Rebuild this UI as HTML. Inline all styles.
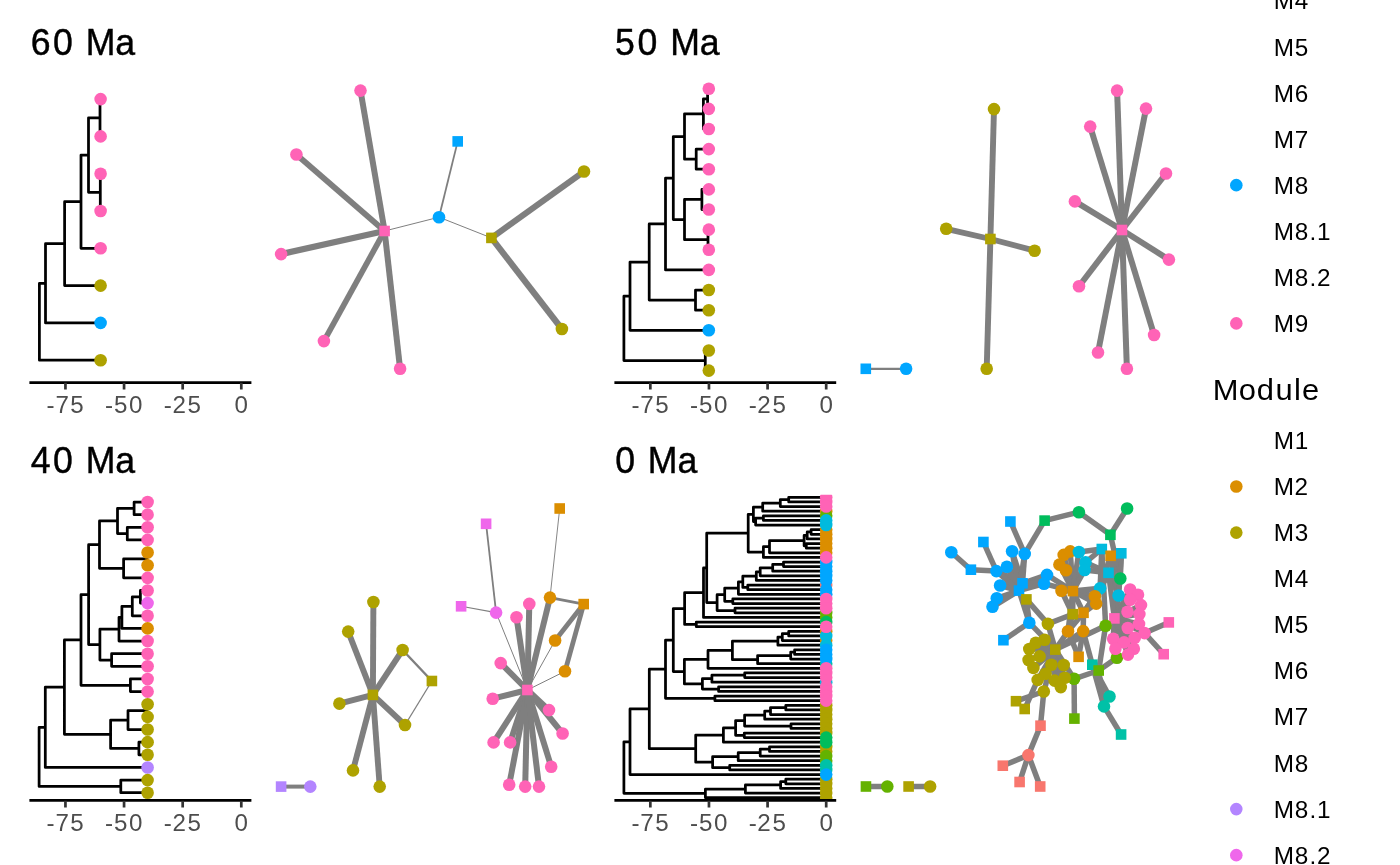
<!DOCTYPE html>
<html lang="en"><head><meta charset="utf-8"><title>Phylogeny and network through time</title>
<style>html,body{margin:0;padding:0;background:#fff}body{width:1400px;height:865px;overflow:hidden}svg{display:block;will-change:transform}text{font-family:"Liberation Sans",sans-serif}</style></head><body>
<svg width="1400" height="865" viewBox="0 0 1400 865">
<rect width="1400" height="865" fill="#fff"/>
<text transform="scale(0.9526 1)" x="32.21 55.71 77.88 89.99 121.06" y="54.8" font-size="37.42" fill="#000" stroke="#000" stroke-width="0.45">60 Ma</text>
<text transform="scale(0.9526 1)" x="645.61 669.27 691.43 703.54 734.61" y="54.8" font-size="37.42" fill="#000" stroke="#000" stroke-width="0.45">50 Ma</text>
<text transform="scale(0.9526 1)" x="32.19 55.71 77.88 89.99 121.06" y="472.8" font-size="37.42" fill="#000" stroke="#000" stroke-width="0.45">40 Ma</text>
<text transform="scale(0.9526 1)" x="645.76 667.93 680.04 711.1" y="472.8" font-size="37.42" fill="#000" stroke="#000" stroke-width="0.45">0 Ma</text>
<path d="M100 117.75V99.1H100.6M100 117.75V136.4H100.6M100.3 192.35V173.7H100.6M100.3 192.35V211H100.6M88.5 155.05V117.75H100M88.5 155.05V192.35H100.3M81 201.67V155.05H88.5M81 201.67V248.3H100.6M64.6 243.64V201.67H81M64.6 243.64V285.6H100.6M45.5 283.27V243.64H64.6M45.5 283.27V322.9H100.6M39.4 321.73V283.27H45.5M39.4 321.73V360.2H100.6" fill="none" stroke="#000" stroke-width="2.75" stroke-linejoin="round" stroke-linecap="round"/>
<circle cx="100.6" cy="99.1" r="6.3" fill="#FF63B6"/>
<circle cx="100.6" cy="136.4" r="6.3" fill="#FF63B6"/>
<circle cx="100.6" cy="173.7" r="6.3" fill="#FF63B6"/>
<circle cx="100.6" cy="211" r="6.3" fill="#FF63B6"/>
<circle cx="100.6" cy="248.3" r="6.3" fill="#FF63B6"/>
<circle cx="100.6" cy="285.6" r="6.3" fill="#AEA200"/>
<circle cx="100.6" cy="322.9" r="6.3" fill="#00A6FF"/>
<circle cx="100.6" cy="360.2" r="6.3" fill="#AEA200"/>
<path d="M29.4 382.5H251.4" stroke="#000" stroke-width="2.75" fill="none"/>
<path d="M241.3 382.8V389.6M182.68 382.8V389.6M124.06 382.8V389.6M65.44 382.8V389.6" stroke="#333" stroke-width="2.7" fill="none"/>
<text transform="scale(0.9791 1)" x="239.59" y="412.8" font-size="24.7" fill="#4D4D4D">0</text>
<text transform="scale(0.9791 1)" x="167.22 176.1 191.57" y="412.8" font-size="24.7" fill="#4D4D4D">-25</text>
<text transform="scale(0.9791 1)" x="107.35 116.45 131.79" y="412.8" font-size="24.7" fill="#4D4D4D">-50</text>
<text transform="scale(0.9791 1)" x="47.48 56.62 71.82" y="412.8" font-size="24.7" fill="#4D4D4D">-75</text>
<path d="M707.6 98.77V88.7H708.8M707.6 98.77V108.84H708.8M703.4 113.87V98.77H707.6M703.4 113.87V128.97H708.8M696.2 159.17V149.11H708.8M696.2 159.17V169.24H708.8M684.5 136.52V113.87H703.4M684.5 136.52V159.17H696.2M701.9 199.44V189.38H708.8M701.9 199.44V209.51H708.8M708 239.71V229.65H708.8M708 239.71V249.78H708.8M684.5 219.58V199.44H701.9M684.5 219.58V239.71H708M673.3 178.05V136.52H684.5M673.3 178.05V219.58H684.5M665.5 223.98V178.05H673.3M665.5 223.98V269.92H708.8M695.5 300.12V290.05H708.8M695.5 300.12V310.19H708.8M649.2 262.05V223.98H665.5M649.2 262.05V300.12H695.5M630 296.18V262.05H649.2M630 296.18V330.32H708.8M705.3 360.52V350.45H708.8M705.3 360.52V370.59H708.8M623.9 328.35V296.18H630M623.9 328.35V360.52H705.3" fill="none" stroke="#000" stroke-width="2.75" stroke-linejoin="round" stroke-linecap="round"/>
<circle cx="708.8" cy="88.7" r="6.3" fill="#FF63B6"/>
<circle cx="708.8" cy="108.84" r="6.3" fill="#FF63B6"/>
<circle cx="708.8" cy="128.97" r="6.3" fill="#FF63B6"/>
<circle cx="708.8" cy="149.11" r="6.3" fill="#FF63B6"/>
<circle cx="708.8" cy="169.24" r="6.3" fill="#FF63B6"/>
<circle cx="708.8" cy="189.38" r="6.3" fill="#FF63B6"/>
<circle cx="708.8" cy="209.51" r="6.3" fill="#FF63B6"/>
<circle cx="708.8" cy="229.65" r="6.3" fill="#FF63B6"/>
<circle cx="708.8" cy="249.78" r="6.3" fill="#FF63B6"/>
<circle cx="708.8" cy="269.92" r="6.3" fill="#FF63B6"/>
<circle cx="708.8" cy="290.05" r="6.3" fill="#AEA200"/>
<circle cx="708.8" cy="310.19" r="6.3" fill="#AEA200"/>
<circle cx="708.8" cy="330.32" r="6.3" fill="#00A6FF"/>
<circle cx="708.8" cy="350.45" r="6.3" fill="#AEA200"/>
<circle cx="708.8" cy="370.59" r="6.3" fill="#AEA200"/>
<path d="M614.4 382.5H836.2" stroke="#000" stroke-width="2.75" fill="none"/>
<path d="M826.2 382.8V389.6M767.58 382.8V389.6M708.96 382.8V389.6M650.34 382.8V389.6" stroke="#333" stroke-width="2.7" fill="none"/>
<text transform="scale(0.9791 1)" x="837" y="412.8" font-size="24.7" fill="#4D4D4D">0</text>
<text transform="scale(0.9791 1)" x="764.64 773.51 788.98" y="412.8" font-size="24.7" fill="#4D4D4D">-25</text>
<text transform="scale(0.9791 1)" x="704.76 713.86 729.2" y="412.8" font-size="24.7" fill="#4D4D4D">-50</text>
<text transform="scale(0.9791 1)" x="644.89 654.03 669.24" y="412.8" font-size="24.7" fill="#4D4D4D">-75</text>
<path d="M134.1 508.32V502H147.6M134.1 508.32V514.64H147.6M127.3 533.6V527.28H147.6M127.3 533.6V539.92H147.6M117.5 520.96V508.32H134.1M117.5 520.96V533.6H127.3M147 558.88V552.56H147.6M147 558.88V565.2H147.6M123.6 568.36V558.88H147M123.6 568.36V577.84H147.6M99.5 544.66V520.96H117.5M99.5 544.66V568.36H123.6M140.4 596.8V590.48H147.6M140.4 596.8V603.12H147.6M132.3 606.28V596.8H140.4M132.3 606.28V615.76H147.6M121.9 617.34V606.28H132.3M121.9 617.34V628.4H147.6M119 629.19V617.34H121.9M119 629.19V641.04H147.6M111.6 660V653.68H147.6M111.6 660V666.32H147.6M99.9 644.6V629.19H119M99.9 644.6V660H111.6M88.6 594.63V544.66H99.5M88.6 594.63V644.6H99.9M130.4 685.28V678.96H147.6M130.4 685.28V691.6H147.6M81 639.95V594.63H88.6M81 639.95V685.28H130.4M147 710.56V704.24H147.6M147 710.56V716.88H147.6M128 720.04V710.56H147M128 720.04V729.52H147.6M138.9 748.48V742.16H147.6M138.9 748.48V754.8H147.6M110.6 734.26V720.04H128M110.6 734.26V748.48H138.9M64.4 687.11V639.95H81M64.4 687.11V734.26H110.6M45.3 727.27V687.11H64.4M45.3 727.27V767.44H147.6M120.8 786.4V780.08H147.6M120.8 786.4V792.72H147.6M39.1 756.84V727.27H45.3M39.1 756.84V786.4H120.8" fill="none" stroke="#000" stroke-width="2.75" stroke-linejoin="round" stroke-linecap="round"/>
<circle cx="147.6" cy="502" r="6.3" fill="#FF63B6"/>
<circle cx="147.6" cy="514.64" r="6.3" fill="#FF63B6"/>
<circle cx="147.6" cy="527.28" r="6.3" fill="#FF63B6"/>
<circle cx="147.6" cy="539.92" r="6.3" fill="#FF63B6"/>
<circle cx="147.6" cy="552.56" r="6.3" fill="#DB8E00"/>
<circle cx="147.6" cy="565.2" r="6.3" fill="#DB8E00"/>
<circle cx="147.6" cy="577.84" r="6.3" fill="#FF63B6"/>
<circle cx="147.6" cy="590.48" r="6.3" fill="#FF63B6"/>
<circle cx="147.6" cy="603.12" r="6.3" fill="#EF67EB"/>
<circle cx="147.6" cy="615.76" r="6.3" fill="#FF63B6"/>
<circle cx="147.6" cy="628.4" r="6.3" fill="#DB8E00"/>
<circle cx="147.6" cy="641.04" r="6.3" fill="#FF63B6"/>
<circle cx="147.6" cy="653.68" r="6.3" fill="#FF63B6"/>
<circle cx="147.6" cy="666.32" r="6.3" fill="#FF63B6"/>
<circle cx="147.6" cy="678.96" r="6.3" fill="#FF63B6"/>
<circle cx="147.6" cy="691.6" r="6.3" fill="#FF63B6"/>
<circle cx="147.6" cy="704.24" r="6.3" fill="#AEA200"/>
<circle cx="147.6" cy="716.88" r="6.3" fill="#AEA200"/>
<circle cx="147.6" cy="729.52" r="6.3" fill="#AEA200"/>
<circle cx="147.6" cy="742.16" r="6.3" fill="#AEA200"/>
<circle cx="147.6" cy="754.8" r="6.3" fill="#AEA200"/>
<circle cx="147.6" cy="767.44" r="6.3" fill="#B385FF"/>
<circle cx="147.6" cy="780.08" r="6.3" fill="#AEA200"/>
<circle cx="147.6" cy="792.72" r="6.3" fill="#AEA200"/>
<path d="M29.4 800.4H251.4" stroke="#000" stroke-width="2.75" fill="none"/>
<path d="M241.3 800.7V807.5M182.68 800.7V807.5M124.06 800.7V807.5M65.44 800.7V807.5" stroke="#333" stroke-width="2.7" fill="none"/>
<text transform="scale(0.9791 1)" x="239.59" y="830.7" font-size="24.7" fill="#4D4D4D">0</text>
<text transform="scale(0.9791 1)" x="167.22 176.1 191.57" y="830.7" font-size="24.7" fill="#4D4D4D">-25</text>
<text transform="scale(0.9791 1)" x="107.35 116.45 131.79" y="830.7" font-size="24.7" fill="#4D4D4D">-50</text>
<text transform="scale(0.9791 1)" x="47.48 56.62 71.82" y="830.7" font-size="24.7" fill="#4D4D4D">-75</text>
<clipPath id="cp4"><rect x="600" y="494.8" width="250" height="305.6"/></clipPath>
<g clip-path="url(#cp4)">
<path d="M788.7 499.61V497.3H826.2M788.7 499.61V501.92H826.2M780.3 503.08V499.61H788.7M780.3 503.08V506.54H826.2M762.7 507.12V503.08H780.3M762.7 507.12V511.16H826.2M763.4 518.1V515.79H826.2M763.4 518.1V520.41H826.2M755.6 521.56V518.1H763.4M755.6 521.56V525.03H826.2M753.4 514.34V507.12H762.7M753.4 514.34V521.56H755.6M811.1 531.96V529.65H826.2M811.1 531.96V534.27H826.2M807.2 535.43V531.96H811.1M807.2 535.43V538.89H826.2M806.3 545.83V543.51H826.2M806.3 545.83V548.14H826.2M804.1 540.63V535.43H807.2M804.1 540.63V545.83H806.3M769.5 546.69V540.63H804.1M769.5 546.69V552.76H826.2M763.4 552.04V546.69H769.5M763.4 552.04V557.38H826.2M748.2 533.19V514.34H753.4M748.2 533.19V552.04H763.4M783.5 564.31V562H826.2M783.5 564.31V566.62H826.2M772.7 567.78V564.31H783.5M772.7 567.78V571.24H826.2M760.2 571.82V567.78H772.7M760.2 571.82V575.87H826.2M756.3 576.15V571.82H760.2M756.3 576.15V580.49H826.2M747.8 587.42V585.11H826.2M747.8 587.42V589.73H826.2M742.8 581.79V576.15H756.3M742.8 581.79V587.42H747.8M738.4 588.07V581.79H742.8M738.4 588.07V594.35H826.2M732.8 601.28V598.97H826.2M732.8 601.28V603.59H826.2M724.7 594.68V588.07H738.4M724.7 594.68V601.28H732.8M735 610.53V608.22H826.2M735 610.53V612.84H826.2M717.1 602.6V594.68H724.7M717.1 602.6V610.53H735M706.7 567.9V533.19H748.2M706.7 567.9V602.6H717.1M703.5 592.68V567.9H706.7M703.5 592.68V617.46H826.2M696.3 624.39V622.08H826.2M696.3 624.39V626.7H826.2M684.6 608.53V592.68H703.5M684.6 608.53V624.39H696.3M788.7 633.63V631.32H826.2M788.7 633.63V635.95H826.2M782.3 637.1V633.63H788.7M782.3 637.1V640.57H826.2M777.9 641.14V637.1H782.3M777.9 641.14V645.19H826.2M794.6 652.12V649.81H826.2M794.6 652.12V654.43H826.2M790.7 655.59V652.12H794.6M790.7 655.59V659.05H826.2M757.6 659.63V655.59H790.7M757.6 659.63V663.67H826.2M732.4 650.39V641.14H777.9M732.4 650.39V659.63H757.6M708 659.34V650.39H732.4M708 659.34V668.3H826.2M744.7 675.23V672.92H826.2M744.7 675.23V677.54H826.2M711.9 678.69V675.23H744.7M711.9 678.69V682.16H826.2M718.6 689.09V686.78H826.2M718.6 689.09V691.4H826.2M702.4 683.89V678.69H711.9M702.4 683.89V689.09H718.6M684.4 671.62V659.34H708M684.4 671.62V683.89H702.4M673.3 640.08V608.53H684.6M673.3 640.08V671.62H684.4M714.9 698.34V696.02H826.2M714.9 698.34V700.65H826.2M665.5 669.21V640.08H673.3M665.5 669.21V698.34H714.9M785.8 707.58V705.27H826.2M785.8 707.58V709.89H826.2M770.5 711.04V707.58H785.8M770.5 711.04V714.51H826.2M764.7 715.09V711.04H770.5M764.7 715.09V719.13H826.2M791 726.06V723.75H826.2M791 726.06V728.38H826.2M744.6 720.58V715.09H764.7M744.6 720.58V726.06H791M744.3 735.31V733H826.2M744.3 735.31V737.62H826.2M735.6 727.94V720.58H744.6M735.6 727.94V735.31H744.3M723.4 735.09V727.94H735.6M723.4 735.09V742.24H826.2M769.5 749.17V746.86H826.2M769.5 749.17V751.48H826.2M760.2 752.64V749.17H769.5M760.2 752.64V756.1H826.2M738.2 756.68V752.64H760.2M738.2 756.68V760.73H826.2M729.7 767.66V765.35H826.2M729.7 767.66V769.97H826.2M712.6 762.17V756.68H738.2M712.6 762.17V767.66H729.7M695.7 748.63V735.09H723.4M695.7 748.63V762.17H712.6M649.3 708.92V669.21H665.5M649.3 708.92V748.63H695.7M630 741.75V708.92H649.3M630 741.75V774.59H826.2M785.8 781.52V779.21H826.2M785.8 781.52V783.83H826.2M780.6 784.99V781.52H785.8M780.6 784.99V788.45H826.2M745.4 789.03V784.99H780.6M745.4 789.03V793.08H826.2M705.4 793.36V789.03H745.4M705.4 793.36V797.7H826.2M623.9 767.56V741.75H630M623.9 767.56V793.36H705.4" fill="none" stroke="#000" stroke-width="2.75" stroke-linejoin="round" stroke-linecap="round"/>
<circle cx="826.2" cy="511.16" r="6.3" fill="#DB8E00"/>
<circle cx="826.2" cy="515.79" r="6.3" fill="#64B200"/>
<circle cx="826.2" cy="529.65" r="6.3" fill="#DB8E00"/>
<circle cx="826.2" cy="534.27" r="6.3" fill="#DB8E00"/>
<circle cx="826.2" cy="538.89" r="6.3" fill="#DB8E00"/>
<circle cx="826.2" cy="543.51" r="6.3" fill="#DB8E00"/>
<circle cx="826.2" cy="548.14" r="6.3" fill="#DB8E00"/>
<circle cx="826.2" cy="552.76" r="6.3" fill="#DB8E00"/>
<circle cx="826.2" cy="585.11" r="6.3" fill="#F8766D"/>
<circle cx="826.2" cy="612.84" r="6.3" fill="#64B200"/>
<circle cx="826.2" cy="617.46" r="6.3" fill="#64B200"/>
<circle cx="826.2" cy="631.32" r="6.3" fill="#DB8E00"/>
<circle cx="826.2" cy="640.57" r="6.3" fill="#DB8E00"/>
<circle cx="826.2" cy="663.67" r="6.3" fill="#00C1A7"/>
<circle cx="826.2" cy="682.16" r="6.3" fill="#00BADE"/>
<circle cx="826.2" cy="705.27" r="6.3" fill="#AEA200"/>
<circle cx="826.2" cy="709.89" r="6.3" fill="#AEA200"/>
<circle cx="826.2" cy="714.51" r="6.3" fill="#AEA200"/>
<circle cx="826.2" cy="719.13" r="6.3" fill="#AEA200"/>
<circle cx="826.2" cy="723.75" r="6.3" fill="#AEA200"/>
<circle cx="826.2" cy="728.38" r="6.3" fill="#AEA200"/>
<circle cx="826.2" cy="733" r="6.3" fill="#AEA200"/>
<circle cx="826.2" cy="746.86" r="6.3" fill="#AEA200"/>
<circle cx="826.2" cy="751.48" r="6.3" fill="#AEA200"/>
<circle cx="826.2" cy="760.73" r="6.3" fill="#64B200"/>
<circle cx="826.2" cy="769.97" r="6.3" fill="#00C1A7"/>
<circle cx="826.2" cy="779.21" r="6.3" fill="#AEA200"/>
<circle cx="826.2" cy="783.83" r="6.3" fill="#AEA200"/>
<circle cx="826.2" cy="788.45" r="6.3" fill="#AEA200"/>
<circle cx="826.2" cy="793.08" r="6.3" fill="#AEA200"/>
<circle cx="826.2" cy="797.7" r="6.3" fill="#AEA200"/>
<circle cx="826.2" cy="497.3" r="6.3" fill="#FF63B6"/>
<circle cx="826.2" cy="501.92" r="6.3" fill="#FF63B6"/>
<circle cx="826.2" cy="506.54" r="6.3" fill="#FF63B6"/>
<circle cx="826.2" cy="520.41" r="6.3" fill="#00BADE"/>
<circle cx="826.2" cy="525.03" r="6.3" fill="#00BADE"/>
<circle cx="826.2" cy="562" r="6.3" fill="#00A6FF"/>
<circle cx="826.2" cy="566.62" r="6.3" fill="#00A6FF"/>
<circle cx="826.2" cy="571.24" r="6.3" fill="#00A6FF"/>
<circle cx="826.2" cy="575.87" r="6.3" fill="#00A6FF"/>
<circle cx="826.2" cy="580.49" r="6.3" fill="#00A6FF"/>
<circle cx="826.2" cy="589.73" r="6.3" fill="#00A6FF"/>
<circle cx="826.2" cy="594.35" r="6.3" fill="#00A6FF"/>
<circle cx="826.2" cy="622.08" r="6.3" fill="#00BD5C"/>
<circle cx="826.2" cy="635.95" r="6.3" fill="#00BADE"/>
<circle cx="826.2" cy="645.19" r="6.3" fill="#00BADE"/>
<circle cx="826.2" cy="672.92" r="6.3" fill="#FF63B6"/>
<circle cx="826.2" cy="677.54" r="6.3" fill="#FF63B6"/>
<circle cx="826.2" cy="686.78" r="6.3" fill="#FF63B6"/>
<circle cx="826.2" cy="691.4" r="6.3" fill="#FF63B6"/>
<circle cx="826.2" cy="696.02" r="6.3" fill="#FF63B6"/>
<circle cx="826.2" cy="700.65" r="6.3" fill="#FF63B6"/>
<circle cx="826.2" cy="756.1" r="6.3" fill="#64B200"/>
<circle cx="826.2" cy="557.38" r="6.3" fill="#FF63B6"/>
<circle cx="826.2" cy="598.97" r="6.3" fill="#FF63B6"/>
<circle cx="826.2" cy="603.59" r="6.3" fill="#FF63B6"/>
<circle cx="826.2" cy="608.22" r="6.3" fill="#FF63B6"/>
<circle cx="826.2" cy="626.7" r="6.3" fill="#FF63B6"/>
<circle cx="826.2" cy="649.81" r="6.3" fill="#00A6FF"/>
<circle cx="826.2" cy="654.43" r="6.3" fill="#00A6FF"/>
<circle cx="826.2" cy="659.05" r="6.3" fill="#00A6FF"/>
<circle cx="826.2" cy="737.62" r="6.3" fill="#00BD5C"/>
<circle cx="826.2" cy="742.24" r="6.3" fill="#00BD5C"/>
<circle cx="826.2" cy="765.35" r="6.3" fill="#00C1A7"/>
<circle cx="826.2" cy="668.3" r="6.3" fill="#FF63B6"/>
<circle cx="826.2" cy="774.59" r="6.3" fill="#00A6FF"/>
</g>
<path d="M614.4 800.4H836.2" stroke="#000" stroke-width="2.75" fill="none"/>
<path d="M826.2 800.7V807.5M767.58 800.7V807.5M708.96 800.7V807.5M650.34 800.7V807.5" stroke="#333" stroke-width="2.7" fill="none"/>
<text transform="scale(0.9791 1)" x="837" y="830.7" font-size="24.7" fill="#4D4D4D">0</text>
<text transform="scale(0.9791 1)" x="764.64 773.51 788.98" y="830.7" font-size="24.7" fill="#4D4D4D">-25</text>
<text transform="scale(0.9791 1)" x="704.76 713.86 729.2" y="830.7" font-size="24.7" fill="#4D4D4D">-50</text>
<text transform="scale(0.9791 1)" x="644.89 654.03 669.24" y="830.7" font-size="24.7" fill="#4D4D4D">-75</text>
<g stroke="#7F7F7F" fill="none" stroke-linecap="butt">
<path d="M384.6 231L360.5 90.6" stroke-width="6"/>
<path d="M384.6 231L296.4 154.5" stroke-width="5.7"/>
<path d="M384.6 231L281.1 254.1" stroke-width="6.2"/>
<path d="M384.6 231L323.9 341.1" stroke-width="5.7"/>
<path d="M384.6 231L400.1 368.8" stroke-width="6"/>
<path d="M491.4 237.9L584 171.5" stroke-width="6.1"/>
<path d="M491.4 237.9L561.9 329" stroke-width="6.2"/>
<path d="M439 217.2L457.7 141.4" stroke-width="1.8"/>
<path d="M384.6 231L439 217.2" stroke-width="1"/>
<path d="M439 217.2L491.4 237.9" stroke-width="1"/>
</g>
<circle cx="360.5" cy="90.6" r="6.3" fill="#FF63B6"/>
<circle cx="296.4" cy="154.5" r="6.3" fill="#FF63B6"/>
<circle cx="281.1" cy="254.1" r="6.3" fill="#FF63B6"/>
<circle cx="323.9" cy="341.1" r="6.3" fill="#FF63B6"/>
<circle cx="400.1" cy="368.8" r="6.3" fill="#FF63B6"/>
<circle cx="584" cy="171.5" r="6.3" fill="#AEA200"/>
<circle cx="561.9" cy="329" r="6.3" fill="#AEA200"/>
<circle cx="439" cy="217.2" r="6.3" fill="#00A6FF"/>
<rect x="379.3" y="225.7" width="10.6" height="10.6" fill="#FF63B6"/>
<rect x="452.4" y="136.1" width="10.6" height="10.6" fill="#00A6FF"/>
<rect x="486.1" y="232.6" width="10.6" height="10.6" fill="#AEA200"/>
<g stroke="#7F7F7F" fill="none" stroke-linecap="butt">
<path d="M865.8 368.8L906.1 368.8" stroke-width="2.2"/>
<path d="M990.4 239L994 109.1" stroke-width="5.9"/>
<path d="M990.4 239L946.2 228.8" stroke-width="5.9"/>
<path d="M990.4 239L1034.6 250.7" stroke-width="5.9"/>
<path d="M990.4 239L986.7 368.8" stroke-width="5.9"/>
<path d="M1122 230L1117.1 90.6" stroke-width="6"/>
<path d="M1122 230L1146 108.6" stroke-width="6"/>
<path d="M1122 230L1090.2 126.6" stroke-width="6"/>
<path d="M1122 230L1166 173.5" stroke-width="6"/>
<path d="M1122 230L1074.9 201.4" stroke-width="6"/>
<path d="M1122 230L1168.9 259.6" stroke-width="6"/>
<path d="M1122 230L1079 286.2" stroke-width="6"/>
<path d="M1122 230L1098 352.5" stroke-width="6"/>
<path d="M1122 230L1126.9 368.8" stroke-width="6"/>
<path d="M1122 230L1154.1 335" stroke-width="6"/>
</g>
<rect x="860.5" y="363.5" width="10.6" height="10.6" fill="#00A6FF"/>
<circle cx="906.1" cy="368.8" r="6.3" fill="#00A6FF"/>
<circle cx="994" cy="109.1" r="6.3" fill="#AEA200"/>
<circle cx="946.2" cy="228.8" r="6.3" fill="#AEA200"/>
<circle cx="1034.6" cy="250.7" r="6.3" fill="#AEA200"/>
<circle cx="986.7" cy="368.8" r="6.3" fill="#AEA200"/>
<rect x="985.1" y="233.7" width="10.6" height="10.6" fill="#AEA200"/>
<circle cx="1117.1" cy="90.6" r="6.3" fill="#FF63B6"/>
<circle cx="1146" cy="108.6" r="6.3" fill="#FF63B6"/>
<circle cx="1090.2" cy="126.6" r="6.3" fill="#FF63B6"/>
<circle cx="1166" cy="173.5" r="6.3" fill="#FF63B6"/>
<circle cx="1074.9" cy="201.4" r="6.3" fill="#FF63B6"/>
<circle cx="1168.9" cy="259.6" r="6.3" fill="#FF63B6"/>
<circle cx="1079" cy="286.2" r="6.3" fill="#FF63B6"/>
<circle cx="1098" cy="352.5" r="6.3" fill="#FF63B6"/>
<circle cx="1126.9" cy="368.8" r="6.3" fill="#FF63B6"/>
<circle cx="1154.1" cy="335" r="6.3" fill="#FF63B6"/>
<rect x="1116.7" y="224.7" width="10.6" height="10.6" fill="#FF63B6"/>
<g stroke="#7F7F7F" fill="none" stroke-linecap="butt">
<path d="M281.1 786.6L310.3 786.6" stroke-width="4"/>
<path d="M372.9 694.9L373.4 602" stroke-width="5.9"/>
<path d="M372.9 694.9L348.2 631.6" stroke-width="5.9"/>
<path d="M372.9 694.9L402.6 650" stroke-width="5.9"/>
<path d="M372.9 694.9L339.4 703.6" stroke-width="5.9"/>
<path d="M372.9 694.9L405 725" stroke-width="5.9"/>
<path d="M372.9 694.9L353 770.4" stroke-width="5.9"/>
<path d="M372.9 694.9L379.7 786.6" stroke-width="5.9"/>
<path d="M402.6 650L431.9 681" stroke-width="2.4"/>
<path d="M431.9 681L405 725" stroke-width="1.3"/>
<path d="M486.1 523.8L496.1 612.6" stroke-width="1.8"/>
<path d="M461.1 606.3L496.1 612.6" stroke-width="1.1"/>
<path d="M496.1 612.6L527.4 690" stroke-width="1"/>
<path d="M559.7 508.5L550 597.6" stroke-width="0.95"/>
<path d="M550 597.6L583.7 604.1" stroke-width="2.6"/>
<path d="M550 597.6L527.4 690" stroke-width="6"/>
<path d="M583.7 604.1L555.1 640.5" stroke-width="4.8"/>
<path d="M583.7 604.1L565 671.3" stroke-width="4.8"/>
<path d="M555.1 640.5L527.4 690" stroke-width="1"/>
<path d="M565 671.3L527.4 690" stroke-width="1"/>
<path d="M527.4 690L529.3 603.9" stroke-width="6"/>
<path d="M527.4 690L516.5 617.3" stroke-width="6"/>
<path d="M527.4 690L500.7 663.1" stroke-width="6"/>
<path d="M527.4 690L492.7 698.7" stroke-width="6"/>
<path d="M527.4 690L549 710.1" stroke-width="6"/>
<path d="M527.4 690L562.6 733.5" stroke-width="6"/>
<path d="M527.4 690L493.6 742.4" stroke-width="6"/>
<path d="M527.4 690L510.1 742.4" stroke-width="6"/>
<path d="M527.4 690L551.2 766.7" stroke-width="6"/>
<path d="M527.4 690L509.2 784.7" stroke-width="6"/>
<path d="M527.4 690L525.2 786.6" stroke-width="6"/>
<path d="M527.4 690L539 786.6" stroke-width="6"/>
</g>
<rect x="275.8" y="781.3" width="10.6" height="10.6" fill="#B385FF"/>
<circle cx="310.3" cy="786.6" r="6.3" fill="#B385FF"/>
<circle cx="373.4" cy="602" r="6.3" fill="#AEA200"/>
<circle cx="348.2" cy="631.6" r="6.3" fill="#AEA200"/>
<circle cx="402.6" cy="650" r="6.3" fill="#AEA200"/>
<circle cx="339.4" cy="703.6" r="6.3" fill="#AEA200"/>
<circle cx="405" cy="725" r="6.3" fill="#AEA200"/>
<circle cx="353" cy="770.4" r="6.3" fill="#AEA200"/>
<circle cx="379.7" cy="786.6" r="6.3" fill="#AEA200"/>
<rect x="367.6" y="689.6" width="10.6" height="10.6" fill="#AEA200"/>
<rect x="426.6" y="675.7" width="10.6" height="10.6" fill="#AEA200"/>
<rect x="480.8" y="518.5" width="10.6" height="10.6" fill="#EF67EB"/>
<rect x="455.8" y="601" width="10.6" height="10.6" fill="#EF67EB"/>
<circle cx="496.1" cy="612.6" r="6.3" fill="#EF67EB"/>
<rect x="554.4" y="503.2" width="10.6" height="10.6" fill="#DB8E00"/>
<circle cx="550" cy="597.6" r="6.3" fill="#DB8E00"/>
<rect x="578.4" y="598.8" width="10.6" height="10.6" fill="#DB8E00"/>
<circle cx="555.1" cy="640.5" r="6.3" fill="#DB8E00"/>
<circle cx="565" cy="671.3" r="6.3" fill="#DB8E00"/>
<circle cx="529.3" cy="603.9" r="6.3" fill="#FF63B6"/>
<circle cx="516.5" cy="617.3" r="6.3" fill="#FF63B6"/>
<circle cx="500.7" cy="663.1" r="6.3" fill="#FF63B6"/>
<circle cx="492.7" cy="698.7" r="6.3" fill="#FF63B6"/>
<circle cx="549" cy="710.1" r="6.3" fill="#FF63B6"/>
<circle cx="562.6" cy="733.5" r="6.3" fill="#FF63B6"/>
<circle cx="493.6" cy="742.4" r="6.3" fill="#FF63B6"/>
<circle cx="510.1" cy="742.4" r="6.3" fill="#FF63B6"/>
<circle cx="551.2" cy="766.7" r="6.3" fill="#FF63B6"/>
<circle cx="509.2" cy="784.7" r="6.3" fill="#FF63B6"/>
<circle cx="525.2" cy="786.6" r="6.3" fill="#FF63B6"/>
<circle cx="539" cy="786.6" r="6.3" fill="#FF63B6"/>
<rect x="522.1" y="684.7" width="10.6" height="10.6" fill="#FF63B6"/>
<g stroke="#7F7F7F" fill="none" stroke-linecap="butt">
<path d="M865.95 786.5L887.3 786.5" stroke-width="5.5"/>
<path d="M908.6 786.5L930.1 786.5" stroke-width="5.5"/>
<path d="M970.9 569.7L951.3 552.3" stroke-width="5.5"/>
<path d="M970.9 569.7L996.4 571.1" stroke-width="5.5"/>
<path d="M983.4 542L996.4 571.1" stroke-width="5.5"/>
<path d="M1010.4 521.5L1024.7 553.9" stroke-width="5.5"/>
<path d="M1044.6 520.6L1024.7 553.9" stroke-width="5.5"/>
<path d="M1044.6 520.6L1078.9 512.2" stroke-width="5.5"/>
<path d="M1022.5 583.3L1012.1 551.3" stroke-width="5.5"/>
<path d="M1022.5 583.3L1024.7 553.9" stroke-width="5.5"/>
<path d="M1022.5 583.3L1006.9 566.8" stroke-width="5.5"/>
<path d="M1022.5 583.3L996.4 571.1" stroke-width="5.5"/>
<path d="M1022.5 583.3L1000.1 585.5" stroke-width="5.5"/>
<path d="M1022.5 583.3L1047 574.9" stroke-width="5.5"/>
<path d="M1022.5 583.3L1044 583.7" stroke-width="5.5"/>
<path d="M1019 590.6L1012.1 551.3" stroke-width="5.5"/>
<path d="M1019 590.6L1024.7 553.9" stroke-width="5.5"/>
<path d="M1019 590.6L1006.9 566.8" stroke-width="5.5"/>
<path d="M1019 590.6L996.4 571.1" stroke-width="5.5"/>
<path d="M1019 590.6L1000.1 585.5" stroke-width="5.5"/>
<path d="M1019 590.6L996.8 598.3" stroke-width="5.5"/>
<path d="M1019 590.6L992.5 606.8" stroke-width="5.5"/>
<path d="M1019 590.6L1047 574.9" stroke-width="5.5"/>
<path d="M1019 590.6L1044 583.7" stroke-width="5.5"/>
<path d="M1019 590.6L1029.3 622.7" stroke-width="5.5"/>
<path d="M1072.9 591.1L1047 574.9" stroke-width="5.5"/>
<path d="M1072.9 591.1L1044 583.7" stroke-width="5.5"/>
<path d="M1072.9 591.1L1070.2 551.4" stroke-width="5.5"/>
<path d="M1072.9 591.1L1063.7 554.9" stroke-width="5.5"/>
<path d="M1072.9 591.1L1059.4 564.6" stroke-width="5.5"/>
<path d="M1072.9 591.1L1066 570.2" stroke-width="5.5"/>
<path d="M1072.9 591.1L1061.5 590.8" stroke-width="5.5"/>
<path d="M1072.9 591.1L1094.9 596.2" stroke-width="5.5"/>
<path d="M1072.9 591.1L1096.2 603.6" stroke-width="5.5"/>
<path d="M1072.9 591.1L1068 631.3" stroke-width="5.5"/>
<path d="M1072.9 591.1L1078.9 552" stroke-width="5.5"/>
<path d="M1072.9 591.1L1085.5 562.4" stroke-width="5.5"/>
<path d="M1072.9 591.1L1084.6 570" stroke-width="5.5"/>
<path d="M1072.9 591.1L1100.1 588.2" stroke-width="5.5"/>
<path d="M1026.4 599.4L1029.3 622.7" stroke-width="5.5"/>
<path d="M1026.4 599.4L1047.9 623.9" stroke-width="5.5"/>
<path d="M1029.3 622.7L1003.4 640.2" stroke-width="5.5"/>
<path d="M1029.3 622.7L1055.3 649.6" stroke-width="5.5"/>
<path d="M1110.4 534.8L1078.9 512.2" stroke-width="5.5"/>
<path d="M1110.4 534.8L1127.1 508.5" stroke-width="5.5"/>
<path d="M1110.4 534.8L1120.3 578.5" stroke-width="5.5"/>
<path d="M1101.8 549L1078.9 552" stroke-width="5.5"/>
<path d="M1101.8 549L1085.5 562.4" stroke-width="5.5"/>
<path d="M1101.8 549L1100.1 588.2" stroke-width="5.5"/>
<path d="M1108.5 572.8L1085.5 562.4" stroke-width="5.5"/>
<path d="M1108.5 572.8L1084.6 570" stroke-width="5.5"/>
<path d="M1108.5 572.8L1100.1 588.2" stroke-width="5.5"/>
<path d="M1108.5 572.8L1118.6 595.5" stroke-width="5.5"/>
<path d="M1110.6 555.8L1100.1 588.2" stroke-width="5.5"/>
<path d="M1110.6 555.8L1118.6 595.5" stroke-width="5.5"/>
<path d="M1121.3 553.3L1118.6 595.5" stroke-width="5.5"/>
<path d="M1121.3 553.3L1120.3 578.5" stroke-width="5.5"/>
<path d="M1121.3 553.3L1100.1 588.2" stroke-width="5.5"/>
<path d="M1083.5 612.8L1094.9 596.2" stroke-width="5.5"/>
<path d="M1083.5 612.8L1096.2 603.6" stroke-width="5.5"/>
<path d="M1083.5 612.8L1068 631.3" stroke-width="5.5"/>
<path d="M1083.5 612.8L1083.2 631.1" stroke-width="5.5"/>
<path d="M1083.5 612.8L1100.1 588.2" stroke-width="5.5"/>
<path d="M1072.7 614.2L1047.9 623.9" stroke-width="5.5"/>
<path d="M1072.7 614.2L1068 631.3" stroke-width="5.5"/>
<path d="M1072.7 614.2L1061.5 590.8" stroke-width="5.5"/>
<path d="M1114.4 618.4L1118.6 595.5" stroke-width="5.5"/>
<path d="M1114.4 618.4L1120.3 578.5" stroke-width="5.5"/>
<path d="M1114.4 618.4L1130.1 589.5" stroke-width="5.5"/>
<path d="M1114.4 618.4L1138 594.8" stroke-width="5.5"/>
<path d="M1114.4 618.4L1130.1 599.7" stroke-width="5.5"/>
<path d="M1114.4 618.4L1141 605.1" stroke-width="5.5"/>
<path d="M1114.4 618.4L1127.5 611.8" stroke-width="5.5"/>
<path d="M1114.4 618.4L1139.4 614.1" stroke-width="5.5"/>
<path d="M1114.4 618.4L1139 624" stroke-width="5.5"/>
<path d="M1114.4 618.4L1127.8 628" stroke-width="5.5"/>
<path d="M1114.4 618.4L1144.6 633.1" stroke-width="5.5"/>
<path d="M1114.4 618.4L1134.7 637.9" stroke-width="5.5"/>
<path d="M1114.4 618.4L1113.2 638.7" stroke-width="5.5"/>
<path d="M1114.4 618.4L1124.1 642.4" stroke-width="5.5"/>
<path d="M1114.4 618.4L1115.4 648.8" stroke-width="5.5"/>
<path d="M1114.4 618.4L1128 654.6" stroke-width="5.5"/>
<path d="M1114.4 618.4L1133.8 648.8" stroke-width="5.5"/>
<path d="M1108.5 572.8L1114.4 618.4" stroke-width="5.5"/>
<path d="M1105.6 625.7L1101.8 549" stroke-width="5.5"/>
<path d="M1072.9 591.1L1083.5 612.8" stroke-width="5.5"/>
<path d="M1072.9 591.1L1072.7 614.2" stroke-width="5.5"/>
<path d="M1144.6 633.1L1168.8 622.4" stroke-width="5.5"/>
<path d="M1144.6 633.1L1163.7 654.2" stroke-width="5.5"/>
<path d="M1055.3 649.6L1047.9 623.9" stroke-width="5.5"/>
<path d="M1055.3 649.6L1044.6 639.8" stroke-width="5.5"/>
<path d="M1055.3 649.6L1035.8 642.7" stroke-width="5.5"/>
<path d="M1055.3 649.6L1029.3 649" stroke-width="5.5"/>
<path d="M1055.3 649.6L1039.6 656.4" stroke-width="5.5"/>
<path d="M1055.3 649.6L1028.6 660" stroke-width="5.5"/>
<path d="M1055.3 649.6L1033.4 667.9" stroke-width="5.5"/>
<path d="M1055.3 649.6L1051.4 664.7" stroke-width="5.5"/>
<path d="M1055.3 649.6L1063.7 665" stroke-width="5.5"/>
<path d="M1055.3 649.6L1045.6 673.7" stroke-width="5.5"/>
<path d="M1055.3 649.6L1037.7 679.9" stroke-width="5.5"/>
<path d="M1055.3 649.6L1054.6 680.6" stroke-width="5.5"/>
<path d="M1055.3 649.6L1064.7 677.7" stroke-width="5.5"/>
<path d="M1055.3 649.6L1060.8 687.1" stroke-width="5.5"/>
<path d="M1055.3 649.6L1043.8 691.5" stroke-width="5.5"/>
<path d="M1055.3 649.6L1105.6 625.7" stroke-width="5.5"/>
<path d="M1055.3 649.6L1068 631.3" stroke-width="5.5"/>
<path d="M1055.3 649.6L1083.2 631.1" stroke-width="5.5"/>
<path d="M1055.3 649.6L1074.1 678.8" stroke-width="5.5"/>
<path d="M1078.6 656.8L1068 631.3" stroke-width="5.5"/>
<path d="M1078.6 656.8L1083.2 631.1" stroke-width="5.5"/>
<path d="M1092.3 664.7L1083.2 631.1" stroke-width="5.5"/>
<path d="M1092.3 664.7L1109.5 696.5" stroke-width="5.5"/>
<path d="M1092.3 664.7L1104 706.4" stroke-width="5.5"/>
<path d="M1104 706.4L1121.1 734.5" stroke-width="5.5"/>
<path d="M1098.7 670.5L1105.6 625.7" stroke-width="5.5"/>
<path d="M1098.7 670.5L1074.1 678.8" stroke-width="5.5"/>
<path d="M1098.7 670.5L1116.9 657.8" stroke-width="5.5"/>
<path d="M1098.7 670.5L1104 706.4" stroke-width="5.5"/>
<path d="M1074.1 678.8L1074.4 718.6" stroke-width="5.5"/>
<path d="M1016 701.2L1043.8 691.5" stroke-width="5.5"/>
<path d="M1024.7 709L1037.7 679.9" stroke-width="5.5"/>
<path d="M1043.8 691.5L1040.5 725.7" stroke-width="5.5"/>
<path d="M1028.4 755.1L1040.5 725.7" stroke-width="5.5"/>
<path d="M1028.4 755.1L1002.8 765.7" stroke-width="5.5"/>
<path d="M1028.4 755.1L1019.6 782" stroke-width="5.5"/>
<path d="M1028.4 755.1L1040.2 786.5" stroke-width="5.5"/>
</g>
<rect x="860.65" y="781.2" width="10.6" height="10.6" fill="#64B200"/>
<circle cx="887.3" cy="786.5" r="6.3" fill="#64B200"/>
<rect x="903.3" y="781.2" width="10.6" height="10.6" fill="#AEA200"/>
<circle cx="930.1" cy="786.5" r="6.3" fill="#AEA200"/>
<circle cx="951.3" cy="552.3" r="6.3" fill="#00A6FF"/>
<rect x="965.6" y="564.4" width="10.6" height="10.6" fill="#00A6FF"/>
<rect x="978.1" y="536.7" width="10.6" height="10.6" fill="#00A6FF"/>
<rect x="1005.1" y="516.2" width="10.6" height="10.6" fill="#00A6FF"/>
<circle cx="1012.1" cy="551.3" r="6.3" fill="#00A6FF"/>
<circle cx="1024.7" cy="553.9" r="6.3" fill="#00A6FF"/>
<circle cx="1006.9" cy="566.8" r="6.3" fill="#00A6FF"/>
<circle cx="996.4" cy="571.1" r="6.3" fill="#00A6FF"/>
<circle cx="1000.1" cy="585.5" r="6.3" fill="#00A6FF"/>
<circle cx="996.8" cy="598.3" r="6.3" fill="#00A6FF"/>
<circle cx="992.5" cy="606.8" r="6.3" fill="#00A6FF"/>
<rect x="1017.2" y="578" width="10.6" height="10.6" fill="#00A6FF"/>
<rect x="1013.7" y="585.3" width="10.6" height="10.6" fill="#00A6FF"/>
<circle cx="1047" cy="574.9" r="6.3" fill="#00A6FF"/>
<circle cx="1044" cy="583.7" r="6.3" fill="#00A6FF"/>
<circle cx="1029.3" cy="622.7" r="6.3" fill="#00A6FF"/>
<rect x="998.1" y="634.9" width="10.6" height="10.6" fill="#00A6FF"/>
<rect x="1039.3" y="515.3" width="10.6" height="10.6" fill="#00BD5C"/>
<circle cx="1078.9" cy="512.2" r="6.3" fill="#00BD5C"/>
<circle cx="1127.1" cy="508.5" r="6.3" fill="#00BD5C"/>
<rect x="1105.1" y="529.5" width="10.6" height="10.6" fill="#00BD5C"/>
<circle cx="1120.3" cy="578.5" r="6.3" fill="#00BD5C"/>
<circle cx="1063.7" cy="554.9" r="6.3" fill="#DB8E00"/>
<circle cx="1070.2" cy="551.4" r="6.3" fill="#DB8E00"/>
<circle cx="1059.4" cy="564.6" r="6.3" fill="#DB8E00"/>
<circle cx="1066" cy="570.2" r="6.3" fill="#DB8E00"/>
<circle cx="1061.5" cy="590.8" r="6.3" fill="#DB8E00"/>
<rect x="1067.6" y="585.8" width="10.6" height="10.6" fill="#DB8E00"/>
<circle cx="1068" cy="631.3" r="6.3" fill="#DB8E00"/>
<circle cx="1083.2" cy="631.1" r="6.3" fill="#DB8E00"/>
<rect x="1073.3" y="651.5" width="10.6" height="10.6" fill="#DB8E00"/>
<rect x="1021.1" y="594.1" width="10.6" height="10.6" fill="#AEA200"/>
<rect x="1067.4" y="608.9" width="10.6" height="10.6" fill="#AEA200"/>
<rect x="1078.2" y="607.5" width="10.6" height="10.6" fill="#DB8E00"/>
<circle cx="1078.9" cy="552" r="6.3" fill="#00BADE"/>
<rect x="1096.5" y="543.7" width="10.6" height="10.6" fill="#00BADE"/>
<rect x="1105.3" y="550.5" width="10.6" height="10.6" fill="#DB8E00"/>
<rect x="1116" y="548" width="10.6" height="10.6" fill="#00BADE"/>
<circle cx="1085.5" cy="562.4" r="6.3" fill="#00BADE"/>
<circle cx="1084.6" cy="570" r="6.3" fill="#00BADE"/>
<rect x="1103.2" y="567.5" width="10.6" height="10.6" fill="#00BADE"/>
<circle cx="1100.1" cy="588.2" r="6.3" fill="#00BADE"/>
<circle cx="1118.6" cy="595.5" r="6.3" fill="#00BADE"/>
<circle cx="1094.9" cy="596.2" r="6.3" fill="#DB8E00"/>
<circle cx="1096.2" cy="603.6" r="6.3" fill="#DB8E00"/>
<circle cx="1074.1" cy="678.8" r="6.3" fill="#64B200"/>
<circle cx="1047.9" cy="623.9" r="6.3" fill="#AEA200"/>
<circle cx="1044.6" cy="639.8" r="6.3" fill="#AEA200"/>
<circle cx="1035.8" cy="642.7" r="6.3" fill="#AEA200"/>
<circle cx="1029.3" cy="649" r="6.3" fill="#AEA200"/>
<rect x="1050" y="644.3" width="10.6" height="10.6" fill="#AEA200"/>
<circle cx="1039.6" cy="656.4" r="6.3" fill="#AEA200"/>
<circle cx="1028.6" cy="660" r="6.3" fill="#AEA200"/>
<circle cx="1033.4" cy="667.9" r="6.3" fill="#AEA200"/>
<circle cx="1051.4" cy="664.7" r="6.3" fill="#AEA200"/>
<circle cx="1063.7" cy="665" r="6.3" fill="#AEA200"/>
<circle cx="1045.6" cy="673.7" r="6.3" fill="#AEA200"/>
<circle cx="1037.7" cy="679.9" r="6.3" fill="#AEA200"/>
<circle cx="1054.6" cy="680.6" r="6.3" fill="#AEA200"/>
<circle cx="1064.7" cy="677.7" r="6.3" fill="#AEA200"/>
<circle cx="1060.8" cy="687.1" r="6.3" fill="#AEA200"/>
<circle cx="1043.8" cy="691.5" r="6.3" fill="#AEA200"/>
<rect x="1010.7" y="695.9" width="10.6" height="10.6" fill="#AEA200"/>
<rect x="1019.4" y="703.7" width="10.6" height="10.6" fill="#AEA200"/>
<rect x="1087" y="659.4" width="10.6" height="10.6" fill="#00C1A7"/>
<rect x="1093.4" y="665.2" width="10.6" height="10.6" fill="#64B200"/>
<circle cx="1116.9" cy="657.8" r="6.3" fill="#64B200"/>
<rect x="1069.1" y="713.3" width="10.6" height="10.6" fill="#64B200"/>
<circle cx="1109.5" cy="696.5" r="6.3" fill="#00C1A7"/>
<circle cx="1104" cy="706.4" r="6.3" fill="#00C1A7"/>
<rect x="1115.8" y="729.2" width="10.6" height="10.6" fill="#00C1A7"/>
<rect x="1035.2" y="720.4" width="10.6" height="10.6" fill="#F8766D"/>
<circle cx="1028.4" cy="755.1" r="6.3" fill="#F8766D"/>
<rect x="997.5" y="760.4" width="10.6" height="10.6" fill="#F8766D"/>
<rect x="1014.3" y="776.7" width="10.6" height="10.6" fill="#F8766D"/>
<rect x="1034.9" y="781.2" width="10.6" height="10.6" fill="#F8766D"/>
<rect x="1109.1" y="613.1" width="10.6" height="10.6" fill="#FF63B6"/>
<circle cx="1105.6" cy="625.7" r="6.3" fill="#64B200"/>
<circle cx="1130.1" cy="589.5" r="6.3" fill="#FF63B6"/>
<circle cx="1138" cy="594.8" r="6.3" fill="#FF63B6"/>
<circle cx="1130.1" cy="599.7" r="6.3" fill="#FF63B6"/>
<circle cx="1141" cy="605.1" r="6.3" fill="#FF63B6"/>
<circle cx="1127.5" cy="611.8" r="6.3" fill="#FF63B6"/>
<circle cx="1139.4" cy="614.1" r="6.3" fill="#FF63B6"/>
<circle cx="1139" cy="624" r="6.3" fill="#FF63B6"/>
<circle cx="1127.8" cy="628" r="6.3" fill="#FF63B6"/>
<circle cx="1144.6" cy="633.1" r="6.3" fill="#FF63B6"/>
<circle cx="1134.7" cy="637.9" r="6.3" fill="#FF63B6"/>
<circle cx="1113.2" cy="638.7" r="6.3" fill="#FF63B6"/>
<circle cx="1124.1" cy="642.4" r="6.3" fill="#FF63B6"/>
<circle cx="1115.4" cy="648.8" r="6.3" fill="#FF63B6"/>
<circle cx="1133.8" cy="648.8" r="6.3" fill="#FF63B6"/>
<circle cx="1128" cy="654.6" r="6.3" fill="#FF63B6"/>
<rect x="1163.5" y="617.1" width="10.6" height="10.6" fill="#FF63B6"/>
<rect x="1158.4" y="648.9" width="10.6" height="10.6" fill="#FF63B6"/>
<text transform="scale(0.9838 1)" x="1294.84 1316.13" y="9" font-size="24.7" fill="#000">M4</text>
<text transform="scale(0.9838 1)" x="1294.84 1316.04" y="56" font-size="24.7" fill="#000">M5</text>
<text transform="scale(0.9838 1)" x="1294.84 1316.13" y="102" font-size="24.7" fill="#000">M6</text>
<text transform="scale(0.9838 1)" x="1294.84 1316.08" y="148" font-size="24.7" fill="#000">M7</text>
<text transform="scale(0.9838 1)" x="1294.84 1316.13" y="194" font-size="24.7" fill="#000">M8</text>
<circle cx="1236.3" cy="185.17" r="6.3" fill="#00A6FF"/>
<text transform="scale(0.9838 1)" x="1294.84 1316.13 1330.94 1338.77" y="240" font-size="24.7" fill="#000">M8.1</text>
<text transform="scale(0.9838 1)" x="1294.84 1316.13 1330.94 1338.58" y="286" font-size="24.7" fill="#000">M8.2</text>
<text transform="scale(0.9838 1)" x="1294.84 1316.06" y="332" font-size="24.7" fill="#000">M9</text>
<circle cx="1236.3" cy="323.41" r="6.3" fill="#FF63B6"/>
<text transform="scale(1.0307 1)" x="1176.62 1201.75 1219.31 1237.47 1255.51 1263.26" y="399.8" font-size="30" fill="#000">Module</text>
<text transform="scale(0.9838 1)" x="1294.84 1316.01" y="449" font-size="24.7" fill="#000">M1</text>
<text transform="scale(0.9838 1)" x="1294.84 1315.82" y="495" font-size="24.7" fill="#000">M2</text>
<circle cx="1236.3" cy="486.53" r="6.3" fill="#DB8E00"/>
<text transform="scale(0.9838 1)" x="1294.84 1316.16" y="541" font-size="24.7" fill="#000">M3</text>
<circle cx="1236.3" cy="532.61" r="6.3" fill="#AEA200"/>
<text transform="scale(0.9838 1)" x="1294.84 1316.13" y="587" font-size="24.7" fill="#000">M4</text>
<text transform="scale(0.9838 1)" x="1294.84 1316.04" y="633" font-size="24.7" fill="#000">M5</text>
<text transform="scale(0.9838 1)" x="1294.84 1316.13" y="679" font-size="24.7" fill="#000">M6</text>
<text transform="scale(0.9838 1)" x="1294.84 1316.08" y="725" font-size="24.7" fill="#000">M7</text>
<text transform="scale(0.9838 1)" x="1294.84 1316.13" y="772" font-size="24.7" fill="#000">M8</text>
<text transform="scale(0.9838 1)" x="1294.84 1316.13 1330.94 1338.77" y="818" font-size="24.7" fill="#000">M8.1</text>
<circle cx="1236.3" cy="809.09" r="6.3" fill="#B385FF"/>
<text transform="scale(0.9838 1)" x="1294.84 1316.13 1330.94 1338.58" y="864" font-size="24.7" fill="#000">M8.2</text>
<circle cx="1236.3" cy="855.17" r="6.3" fill="#EF67EB"/>
</svg></body></html>
